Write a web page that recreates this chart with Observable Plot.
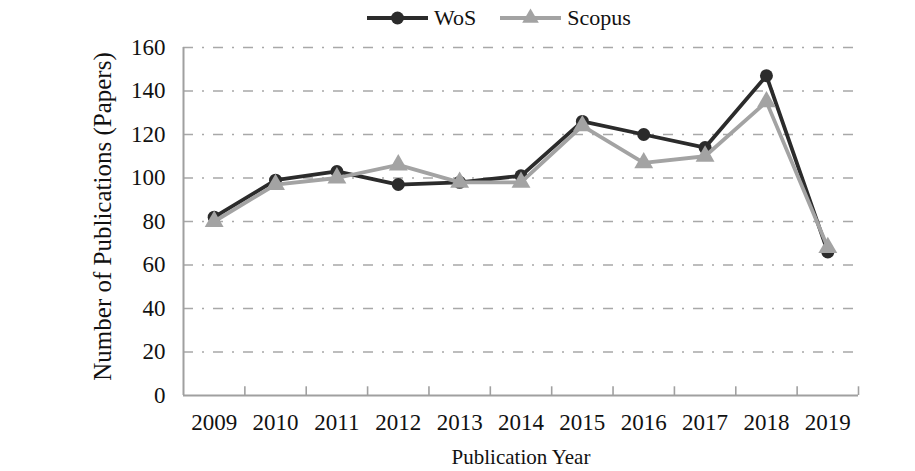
<!DOCTYPE html>
<html>
<head>
<meta charset="utf-8">
<script src="https://cdn.jsdelivr.net/npm/d3@7"></script>
<script src="https://cdn.jsdelivr.net/npm/@observablehq/plot@0.6"></script>
<style>
  html, body { margin: 0; padding: 0; background: #fff; }
  body { width: 915px; height: 471px; overflow: hidden; font-family: "Liberation Serif", "Times New Roman", Times, serif; }
  #legend { height: 36px; display: flex; align-items: center; padding-left: 367px; box-sizing: border-box; font-size: 22px; color: #111; font-family: "Liberation Serif", "Times New Roman", Times, serif; }
  #legend .item { display: flex; align-items: center; }
  #legend svg { display: block; }
  #chart svg, #chart svg text { font-family: "Liberation Serif", "Times New Roman", Times, serif !important; }
</style>
</head>
<body>
<div id="legend"></div>
<div id="chart"></div>
<script>
const years = [2009, 2010, 2011, 2012, 2013, 2014, 2015, 2016, 2017, 2018, 2019];
const wos = [82, 99, 103, 97, 98, 101, 126, 120, 114, 147, 66];
const scopus = [80, 97, 100, 106, 98, 98, 124, 107, 110, 135, 68];
const yTicks = [0, 20, 40, 60, 80, 100, 120, 140, 160];
const seriesNames = ["WoS", "Scopus"];
const seriesColors = ["#2b2b2b", "#a3a3a3"];

const table = [];
years.forEach((yr, i) => {
  table.push({year: yr, value: wos[i], series: "WoS"});
  table.push({year: yr, value: scopus[i], series: "Scopus"});
});
const wosRows = table.filter(d => d.series === "WoS");
const scopusRows = table.filter(d => d.series === "Scopus");
const boundaries = [years[0] - 0.5, ...years.map(y => y + 0.5)];
const gridVals = yTicks.filter(v => v > 0);

const chart = Plot.plot({
  width: 915,
  height: 435,
  marginTop: 11,
  marginBottom: 76,
  marginLeft: 183,
  marginRight: 57,
  style: {fontFamily: "'Liberation Serif', 'Times New Roman', serif", fontSize: "23px", color: "#111", background: "#fff"},
  x: {domain: [years[0] - 0.5, years[years.length - 1] + 0.5]},
  y: {domain: [0, 160]},
  marks: [
    Plot.gridY(gridVals, {stroke: "#a8a8a8", strokeOpacity: 1, strokeWidth: 1.6, strokeDasharray: "10,9,2,9"}),
    Plot.ruleY([0], {stroke: "#a0a0a0", strokeWidth: 2}),
    Plot.ruleX([boundaries[0]], {y1: 0, y2: 160, stroke: "#a0a0a0", strokeWidth: 2}),
    Plot.ruleX(boundaries.slice(1), {y1: 0, y2: 4, stroke: "#a0a0a0", strokeWidth: 1.6}),
    Plot.axisX(years, {tickSize: 0, tickPadding: 18, tickFormat: d => String(d), fontSize: 23, label: null}),
    Plot.axisY(yTicks, {tickSize: 0, tickPadding: 18, fontSize: 23, label: null}),
    Plot.text(["Publication Year"], {frameAnchor: "bottom", dy: 62, fontSize: 21, lineAnchor: "middle", textAnchor: "middle"}),
    Plot.text(["Number of Publications (Papers)"], {frameAnchor: "left", dx: -81, dy: -5, rotate: -90, fontSize: 25, lineAnchor: "middle", textAnchor: "middle"}),
    Plot.line(wosRows, {x: "year", y: "value", stroke: seriesColors[0], strokeWidth: 3.8}),
    Plot.dot(wosRows, {x: "year", y: "value", r: 6.5, fill: seriesColors[0], symbol: "circle"}),
    Plot.line(scopusRows, {x: "year", y: "value", stroke: seriesColors[1], strokeWidth: 3.8}),
    Plot.dot(scopusRows, {x: "year", y: "value", r: 7, fill: seriesColors[1], symbol: "triangle"})
  ]
});
document.getElementById("chart").appendChild(chart);

// legend
const legend = d3.select("#legend");
seriesNames.forEach((name, i) => {
  const item = legend.append("div").attr("class", "item").style("margin-right", i === 0 ? "24px" : "0");
  const svg = item.append("svg").attr("width", 61).attr("height", 20);
  svg.append("line").attr("x1", 0).attr("x2", 61).attr("y1", 10).attr("y2", 10)
    .attr("stroke", seriesColors[i]).attr("stroke-width", 3.8);
  if (i === 0) {
    svg.append("circle").attr("cx", 30.5).attr("cy", 10).attr("r", 6.5).attr("fill", seriesColors[i]);
  } else {
    svg.append("path").attr("d", d3.symbol(d3.symbolTriangle, 120)()).attr("transform", "translate(30.5,10)").attr("fill", seriesColors[i]);
  }
  item.append("span").style("margin-left", "6px").text(name);
});
</script>
</body>
</html>
